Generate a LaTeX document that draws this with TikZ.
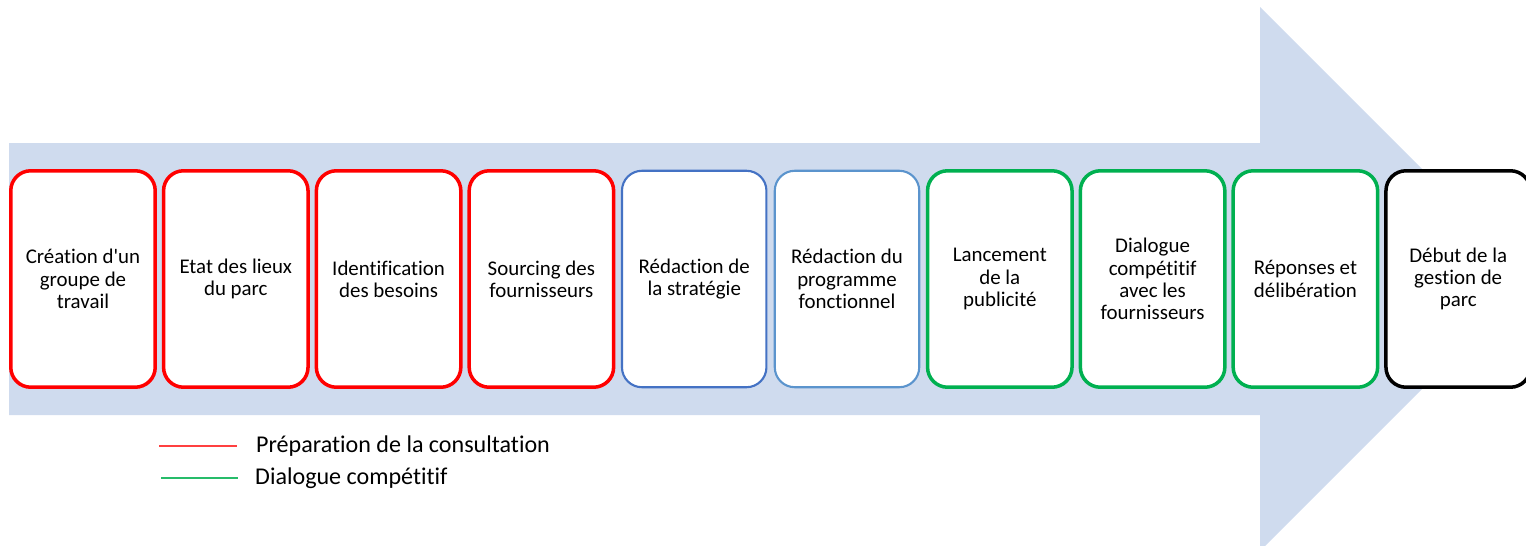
\documentclass[tikz,border=0pt]{standalone}
\usepackage{fontspec}
\setmainfont{Carlito}[Ligatures=CommonOff]
\usetikzlibrary{positioning}

\definecolor{arrowfill}{RGB}{207,219,238}
\definecolor{prepred}{RGB}{255,0,0}
\definecolor{redacblue}{RGB}{68,114,196}
\definecolor{redacblueb}{RGB}{91,148,205}
\definecolor{dialgreen}{RGB}{0,176,80}

\begin{document}
\begin{tikzpicture}[x=0.02cm,y=-0.02cm,
  phasebox/.style={draw,fill=white,rounded corners=0.4cm,
    minimum width=2.89cm,minimum height=4.33cm,inner sep=0pt,
    align=center,line width=2pt,font=\fontsize{11.9}{12.7}\selectfont},
  legtext/.style={anchor=base west,font=\fontsize{13.7}{15}\selectfont}]
\useasboundingbox (0,0) rectangle (1526,545);
\fill [arrowfill] (9,143) -- (1260,143) -- (1260,7) -- (1532,279)
   -- (1260,551) -- (1260,415) -- (9,415) -- cycle;

  \begin{scope}[every node/.style={phasebox}]
    \node [draw=prepred] at (83,279) (phase1) {Création d\textquotesingle un\\groupe de\\travail};
    \node [draw=prepred] at (235.8,279) (phase2) {Etat des lieux\\du parc};
    \node [draw=prepred] at (388.6,279) (phase3) {Identification\\des besoins};
    \node [draw=prepred] at (541.4,279) (phase4) {Sourcing des\\fournisseurs};
    \node [draw=redacblue,line width=1.2pt] at (694.2,279) (phase5) {Rédaction de\\la stratégie};
    \node [draw=redacblueb,line width=1.2pt] at (847,279) (phase6) {Rédaction du\\programme\\fonctionnel};
    \node [draw=dialgreen] at (999.8,279) (phase7) {Lancement\\de la\\publicité};
    \node [draw=dialgreen] at (1152.6,279) (phase8) {Dialogue\\compétitif\\avec les\\fournisseurs};
    \node [draw=dialgreen] at (1305.4,279) (phase9) {Réponses et\\délibération};
    \node [draw=black] at (1458.2,279) (phase10) {Début de la\\gestion de\\parc};
  \end{scope}

  % legend
  \coordinate (prepa) at (159,446);
  \coordinate (prepb) at (237,446);
  \coordinate (diala) at (161,478);
  \coordinate (dialb) at (238,478);
  \draw [prepred!75,line width=0.8pt] (prepa) -- (prepb);
  \draw [dialgreen!85,line width=0.8pt] (diala) -- (dialb);
  \node [legtext] at (250,452) (prepleg) {Préparation de la consultation};
  \node [legtext] at (249,484) (dialleg) {Dialogue compétitif};
\end{tikzpicture}
\end{document}
